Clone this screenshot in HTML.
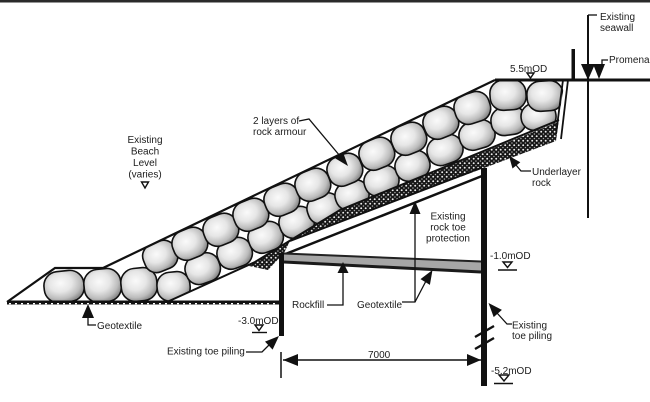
<!DOCTYPE html>
<html><head><meta charset="utf-8">
<style>
html,body{margin:0;padding:0;background:#fff;}
svg{display:block;}
text{font-family:"Liberation Sans",Arial,sans-serif;font-size:10px;fill:#1c1c1c;}
</style></head><body>
<svg width="650" height="402" viewBox="0 0 650 402" xmlns="http://www.w3.org/2000/svg">
<defs>
<radialGradient id="st" cx="42%" cy="38%" r="64%">
<stop offset="0" stop-color="#fafafa"/>
<stop offset="0.45" stop-color="#e6e6e6"/>
<stop offset="0.8" stop-color="#bcbcbc"/>
<stop offset="1" stop-color="#8c8c8c"/>
</radialGradient>
<pattern id="ul" width="4.5" height="4.5" patternUnits="userSpaceOnUse">
<rect width="4.5" height="4.5" fill="#161616"/>
<circle cx="1.2" cy="1.2" r="0.95" fill="#eeeeee"/>
<circle cx="3.45" cy="3.45" r="0.75" fill="#aaaaaa"/>
</pattern>
<clipPath id="arm"><polygon points="7,302 55,268 103,268 495,80 565,80 558,122 340,210 255,262 167,302"/></clipPath>
</defs>

<!-- top border -->
<rect x="0" y="0" width="650" height="2.5" fill="#2a2a2a"/>

<!-- underlayer -->
<polygon points="559,119 556,141 290,241 284,253 268,270 249,266 255,262 340,210" fill="url(#ul)"/>

<!-- white band lines -->
<line x1="290" y1="241" x2="482" y2="167.5" stroke="#111" stroke-width="2"/>
<line x1="283" y1="255" x2="482" y2="176" stroke="#111" stroke-width="2.5"/>

<!-- armour body -->
<polygon points="7,302 55,268 103,268 495,80 565,80 558,122 340,210 255,262 167,302" fill="#fff"/>
<g clip-path="url(#arm)" fill="url(#st)" stroke="#111" stroke-width="1.6">
<!-- bottom row -->
<rect x="44" y="271" width="40" height="31" rx="14" transform="rotate(-6 64 286)"/>
<rect x="84" y="269" width="37" height="33" rx="14" transform="rotate(-6 102 285)"/>
<rect x="121" y="268" width="36" height="33" rx="14" transform="rotate(-6 139 284)"/>
<rect x="157" y="272" width="33" height="29" rx="13" transform="rotate(-6 173 286)"/>
<!-- lower layer -->
<rect x="185" y="254" width="35" height="29" rx="13" transform="rotate(-20 203 268)"/>
<rect x="217" y="239" width="35" height="29" rx="13" transform="rotate(-20 234 253)"/>
<rect x="248" y="223" width="35" height="29" rx="13" transform="rotate(-20 265 237)"/>
<rect x="279" y="208" width="35" height="29" rx="13" transform="rotate(-20 296 222)"/>
<rect x="307" y="194" width="34" height="29" rx="13" transform="rotate(-20 324 208)"/>
<rect x="335" y="181" width="34" height="28" rx="13" transform="rotate(-20 352 195)"/>
<rect x="364" y="167" width="35" height="28" rx="13" transform="rotate(-20 381 181)"/>
<rect x="395" y="152" width="35" height="28" rx="13" transform="rotate(-20 412 166)"/>
<rect x="427" y="136" width="36" height="28" rx="13" transform="rotate(-20 445 150)"/>
<rect x="459" y="121" width="36" height="28" rx="13" transform="rotate(-16 477 135)"/>
<rect x="491" y="107" width="35" height="28" rx="13" transform="rotate(-8 508 121)"/>
<rect x="521" y="103" width="35" height="27" rx="13" transform="rotate(-5 538 116)"/>
<!-- upper layer -->
<rect x="143" y="242" width="34" height="29" rx="12" transform="rotate(-22 160 256)"/>
<rect x="172" y="229" width="35" height="30" rx="13" transform="rotate(-22 189 243)"/>
<rect x="203" y="215" width="35" height="30" rx="13" transform="rotate(-22 220 229)"/>
<rect x="233" y="200" width="35" height="30" rx="13" transform="rotate(-22 250 214)"/>
<rect x="264" y="185" width="35" height="30" rx="13" transform="rotate(-22 281 199)"/>
<rect x="295" y="170" width="35" height="30" rx="13" transform="rotate(-22 312 184)"/>
<rect x="327" y="155" width="35" height="30" rx="13" transform="rotate(-22 344 169)"/>
<rect x="359" y="139" width="35" height="30" rx="13" transform="rotate(-22 376 153)"/>
<rect x="391" y="124" width="35" height="30" rx="13" transform="rotate(-22 408 138)"/>
<rect x="423" y="108" width="35" height="30" rx="13" transform="rotate(-22 440 122)"/>
<rect x="454" y="93" width="36" height="30" rx="13" transform="rotate(-18 472 107)"/>
<rect x="490" y="80" width="36" height="30" rx="13" transform="rotate(-4 508 95)"/>
<rect x="527" y="81" width="36" height="30" rx="13" transform="rotate(-4 545 96)"/>
</g>
<!-- armour outlines -->
<polyline points="7,302 55,268 103,268 495,80" fill="none" stroke="#111" stroke-width="2.2"/>
<polyline points="167,302 255,262 340,210 559,120" fill="none" stroke="#111" stroke-width="2"/>
<line x1="563" y1="80" x2="556" y2="134" stroke="#111" stroke-width="1.8"/>
<line x1="568" y1="80" x2="561" y2="139" stroke="#111" stroke-width="1.8"/>

<!-- crest / ground line -->
<line x1="495" y1="80" x2="650" y2="80" stroke="#111" stroke-width="3"/>

<!-- baseline geotextile -->
<line x1="7" y1="302.5" x2="281" y2="302.5" stroke="#111" stroke-width="4"/>
<line x1="9" y1="303.6" x2="279" y2="303.6" stroke="#fff" stroke-width="1.2" stroke-dasharray="2 4"/>

<!-- strip -->
<polygon points="284,253 481,261 481,272 284,262" fill="#a6a6a6"/>
<line x1="284" y1="253.5" x2="481" y2="261.5" stroke="#222" stroke-width="2"/>
<line x1="284" y1="262" x2="481" y2="272" stroke="#1a1a1a" stroke-width="3"/>

<!-- piles -->
<rect x="279" y="253" width="5" height="83" fill="#111"/>
<rect x="481" y="168" width="6" height="218" fill="#111"/>
<path d="M475,337 L494,326 M475,349 L494,338" stroke="#111" stroke-width="2.4" fill="none"/>

<!-- seawall, post, promenade -->
<line x1="588" y1="15" x2="588" y2="218" stroke="#111" stroke-width="2"/>
<line x1="588" y1="15" x2="597" y2="15" stroke="#111" stroke-width="1.3"/>
<rect x="571.5" y="49" width="3.5" height="31" fill="#111"/>
<polygon points="581,64 595,64 588,80" fill="#111"/>
<polygon points="593,64 605,64 599,79" fill="#111"/>
<polyline points="602,66 602,60 608,60" fill="none" stroke="#111" stroke-width="1.3"/>

<!-- leaders & arrows -->
<g stroke="#111" stroke-width="1.3" fill="none">
<polyline points="299,121 309,119 340,156"/>
<polyline points="516,165 521,171 531,171"/>
<line x1="415" y1="213" x2="415" y2="302"/>
<polyline points="402,302 415,302 426,281"/>
<polyline points="327,305 343,305 343,271"/>
<polyline points="88,318 88,325 96,325"/>
<polyline points="246,352 262,352 269,345"/>
<polyline points="497,313 507,324 512,324"/>
<line x1="281" y1="352" x2="281" y2="378" stroke-width="1.5"/>
<line x1="283" y1="360" x2="481" y2="360" stroke-width="1.5"/>
</g>
<g fill="#111">
<polygon points="348,166 335.3,158.4 342.9,152"/>
<polygon points="509,156 520.3,162.3 512.5,168.5"/>
<polygon points="415,201 409.5,214 420.5,214"/>
<polygon points="432.5,270 429.9,284.9 420.5,279.1"/>
<polygon points="343,262 337.5,273 348.5,273"/>
<polygon points="88,304 82,318 94,318"/>
<polygon points="279,336 272.6,349.6 265,341.6"/>
<polygon points="488.5,303 501.9,309.9 493.7,317.1"/>
<polygon points="283,360 298,354 298,366"/>
<polygon points="481,360 467,354 467,366"/>
</g>

<!-- level markers -->
<g stroke="#111" stroke-width="1.4" fill="none">
<polygon points="527,73 534,73 530.5,78"/>
<polygon points="141.5,182 148.5,182 145,188"/>
<polygon points="255,325 263,325 259,330.5"/>
<line x1="252" y1="332.5" x2="267" y2="332.5"/>
<polygon points="503,262 512,262 507.5,267.5"/>
<line x1="498" y1="270" x2="517" y2="270"/>
<polygon points="499,375 509,375 504,381"/>
<line x1="494" y1="383.5" x2="513" y2="383.5"/>
</g>

<!-- labels -->
<text x="600" y="20">Existing</text>
<text x="600" y="31">seawall</text>
<text x="609" y="63">Promenade</text>
<text x="510" y="72">5.5mOD</text>
<text x="253" y="124">2 layers of</text>
<text x="253" y="135">rock armour</text>
<text x="145" y="143" text-anchor="middle">Existing</text>
<text x="145" y="154.5" text-anchor="middle">Beach</text>
<text x="145" y="166" text-anchor="middle">Level</text>
<text x="145" y="177.5" text-anchor="middle">(varies)</text>
<text x="532" y="175">Underlayer</text>
<text x="532" y="186">rock</text>
<text x="448" y="219.5" text-anchor="middle">Existing</text>
<text x="448" y="230.5" text-anchor="middle">rock toe</text>
<text x="448" y="241.5" text-anchor="middle">protection</text>
<text x="490" y="259">-1.0mOD</text>
<text x="292" y="308">Rockfill</text>
<text x="357" y="308">Geotextile</text>
<text x="97" y="329">Geotextile</text>
<text x="238" y="324">-3.0mOD</text>
<text x="167" y="354.5">Existing toe piling</text>
<text x="368" y="358">7000</text>
<text x="512" y="328.5">Existing</text>
<text x="512" y="339">toe piling</text>
<text x="491" y="374">-5.2mOD</text>
</svg>
</body></html>
